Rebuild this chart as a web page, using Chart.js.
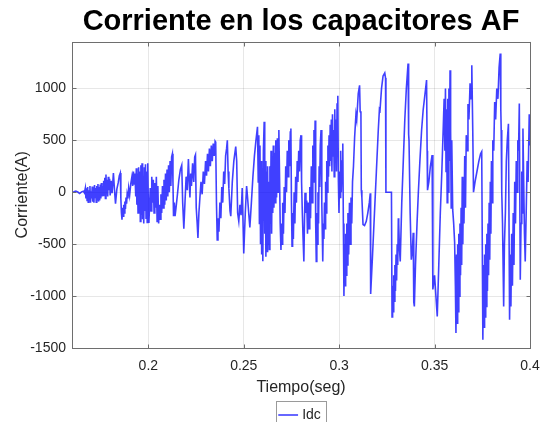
<!DOCTYPE html>
<html><head><meta charset="utf-8">
<script src="https://cdn.jsdelivr.net/npm/chart.js@4/dist/chart.umd.min.js"></script>
<style>html,body{margin:0;padding:0;background:#fff;overflow:hidden}#wrap{width:544px;height:422px}</style>
</head><body><div id="wrap"><canvas id="c" width="544" height="422"></canvas></div>
<script>
const chartTitle = "Corriente en los capacitores AF";
const xTitle = "Tiempo(seg)";
const yTitle = "Corriente(A)";
const seriesName = "Idc";
const xTicks = [0.2, 0.25, 0.3, 0.35, 0.4];
const yTicks = [-1500, -1000, -500, 0, 500, 1000];

const timeSec = [
0.1600,0.1610,0.1620,0.1630,0.1640,0.1650,0.1660,0.1665,
0.1670,0.1673,0.1676,0.1679,0.1682,0.1685,0.1688,0.1691,0.1694,0.1697,0.1700,0.1703,0.1706,0.1709,0.1712,0.1715,0.1718,0.1721,0.1724,0.1727,0.1730,0.1733,0.1736,0.1739,0.1742,0.1745,0.1748,0.1751,0.1754,0.1757,0.1760,0.1763,0.1766,
0.1769,0.1772,0.1775,0.1778,0.1781,0.1784,0.1787,0.1790,0.1793,0.1797,0.1800,0.1805,0.1810,0.1817,0.1822,0.1828,0.1835,0.1842,0.1848,0.1853,0.1856,0.1859,0.1862,0.1865,0.1868,0.1871,0.1874,0.1877,0.1880,0.1883,0.1886,0.1889,0.1893,0.1897,0.1902,0.1908,0.1914,0.1918,0.1922,0.1926,0.1930,0.1934,0.1937,0.1940,
0.1943,0.1946,0.1949,0.1952,0.1955,0.1958,0.1961,0.1964,0.1967,0.1970,0.1973,0.1976,0.1979,0.1982,0.1985,0.1988,0.1991,0.1994,0.1997,0.2000,0.2003,0.2006,
0.2010,0.2014,0.2018,0.2022,0.2026,0.2030,0.2034,0.2038,0.2042,0.2046,0.2050,0.2054,0.2058,0.2062,
0.2066,0.2070,0.2074,0.2078,0.2082,0.2086,0.2090,0.2094,0.2098,0.2102,0.2106,0.2110,0.2114,0.2118,0.2122,0.2126,0.2129,0.2132,0.2136,0.2140,
0.2145,0.2152,0.2160,0.2168,0.2175,0.2180,0.2186,0.2192,0.2198,0.2204,0.2210,0.2214,0.2218,0.2222,0.2226,0.2232,0.2238,0.2243,0.2247,0.2251,0.2256,0.2260,0.2265,0.2270,0.2276,0.2282,0.2288,0.2294,0.2300,0.2305,0.2310,0.2315,0.2320,0.2325,0.2330,0.2335,0.2340,0.2345,0.2350,0.2353,0.2357,0.2361,0.2365,0.2370,0.2375,0.2380,0.2385,0.2390,0.2395,0.2400,0.2405,0.2410,0.2414,0.2418,0.2422,0.2428,0.2432,0.2440,0.2448,0.2458,0.2463,0.2468,0.2474,0.2480,0.2486,0.2492,0.2500,0.2508,0.2515,0.2520,0.2526,0.2532,0.2540,0.2548,0.2556,0.2564,0.2572,0.2576,
0.2579,0.2582,0.2585,0.2588,0.2591,0.2594,0.2597,0.2600,0.2603,0.2607,0.2610,0.2613,0.2616,0.2619,0.2622,0.2625,0.2628,0.2631,0.2634,0.2637,0.2640,0.2643,0.2646,0.2649,0.2652,0.2655,0.2658,0.2661,0.2664,0.2668,0.2672,0.2676,0.2680,0.2684,0.2688,0.2691,0.2695,0.2698,0.2701,0.2704,0.2708,0.2712,0.2716,0.2720,0.2724,0.2728,0.2732,0.2736,0.2740,0.2744,0.2747,0.2750,0.2753,0.2756,0.2760,0.2764,0.2768,0.2772,0.2776,0.2780,0.2784,0.2788,0.2792,0.2796,0.2800,0.2803,0.2807,0.2811,0.2815,0.2818,0.2821,0.2826,0.2830,
0.2834,0.2838,0.2842,0.2846,0.2850,0.2854,0.2858,0.2862,0.2865,0.2868,0.2871,0.2874,0.2877,0.2880,0.2883,0.2886,0.2889,0.2892,0.2895,0.2898,0.2901,0.2905,0.2909,0.2914,0.2917,0.2920,0.2923,0.2926,0.2929,0.2932,0.2935,0.2938,0.2941,0.2944,0.2947,0.2950,0.2953,0.2956,0.2959,0.2962,0.2965,0.2968,0.2971,0.2974,0.2977,0.2980,0.2983,0.2986,0.2989,0.2993,0.2996,0.2999,0.3002,0.3005,0.3008,0.3011,0.3015,0.3019,
0.3022,0.3025,0.3028,0.3031,0.3034,0.3037,0.3040,0.3043,0.3046,0.3050,0.3054,0.3058,0.3062,0.3066,0.3070,0.3075,0.3081,0.3088,0.3092,0.3100,0.3107,0.3110,0.3114,0.3116,0.3119,0.3125,0.3133,0.3142,0.3150,0.3158,0.3163,0.3165,
0.3175,0.3185,0.3195,0.3205,0.3211,0.3214,0.3222,0.3230,0.3239,0.3243,0.3245,0.3274,0.3277,
0.3280,0.3283,0.3286,0.3289,0.3292,0.3295,0.3298,0.3301,0.3304,0.3307,0.3310,0.3312,0.3316,0.3320,0.3328,0.3336,0.3344,0.3352,0.3361,0.3364,0.3366,0.3372,0.3378,0.3384,0.3388,0.3391,
0.3394,0.3400,0.3408,0.3415,0.3423,0.3432,0.3440,0.3450,0.3458,0.3461,0.3463,0.3470,0.3478,0.3487,0.3491,0.3500,0.3507,0.3514,0.3522,0.3530,0.3538,0.3545,0.3550,0.3554,0.3557,0.3560,0.3563,0.3566,0.3569,0.3572,0.3575,0.3578,0.3581,0.3584,0.3587,0.3590,0.3595,0.3600,0.3605,0.3609,
0.3612,0.3615,0.3618,0.3621,0.3624,0.3627,0.3630,0.3633,0.3636,0.3639,0.3642,0.3645,0.3648,0.3651,0.3654,0.3658,0.3662,0.3666,0.3670,0.3675,0.3680,0.3686,0.3691,0.3695,0.3700,0.3704,0.3712,0.3722,0.3732,0.3741,0.3747,
0.3753,0.3756,0.3759,0.3762,0.3765,0.3768,0.3771,0.3774,0.3777,0.3780,0.3783,0.3786,0.3789,0.3792,0.3795,0.3798,0.3801,0.3805,0.3810,0.3815,0.3820,0.3826,0.3832,0.3838,0.3844,0.3847,0.3849,0.3852,0.3856,0.3862,0.3866,0.3871,0.3876,0.3881,0.3887,
0.3893,0.3897,0.3900,0.3904,0.3908,0.3912,0.3916,0.3920,0.3924,0.3928,0.3932,0.3936,0.3940,0.3944,0.3949,0.3953,0.3957,0.3960,0.3963,0.3967,0.3971,0.3975,0.3980,0.3985,0.3990,0.3996,0.4000
];

const currentA = [
0,5,12,2,-12,4,10,-5,
40,-60,30,-80,50,-95,20,-70,60,-100,10,-60,55,-90,30,-100,70,-50,40,-95,60,-70,80,-90,50,-80,75,-60,90,-40,60,-30,110,
-20,140,-60,170,0,120,-40,150,20,130,-30,110,-10,185,40,-110,30,90,160,185,-60,-200,-265,-150,-230,-120,-200,-90,-160,-50,-110,-20,-60,40,-30,80,150,60,200,80,180,-40,230,-120,
180,-200,240,-150,200,-280,260,-220,280,-260,150,-300,240,-180,270,-250,200,-290,280,-120,-295,-150,
40,-180,150,-100,120,-200,90,-150,150,-280,60,-300,-120,-260,
-20,-200,60,-150,120,-120,180,-80,220,-40,260,0,300,60,340,370,100,-230,-100,-230,
-150,-30,120,220,260,-100,-350,-100,150,20,320,120,-50,180,60,280,100,340,360,-150,-300,-440,-200,-60,100,-20,200,80,300,160,370,200,420,250,450,300,470,350,490,480,-100,-460,-250,-380,-100,-250,50,-100,200,80,350,420,500,200,40,-180,-230,100,300,440,300,-200,-280,-120,-220,40,-590,-200,60,-50,-200,-340,-100,150,350,500,630,100,
550,-300,450,-500,300,-600,200,-665,400,680,-400,300,-620,200,-570,250,-500,100,-550,250,-300,400,-400,300,-200,450,-150,380,-100,500,-50,520,0,600,100,-300,-555,-300,-500,-100,-400,50,-200,250,0,400,150,500,250,580,615,-100,-520,-200,-450,0,-300,150,-100,300,100,400,200,500,550,100,-200,-450,-667,-300,-5,-200,-80,
-400,-100,-350,50,-250,250,-100,450,100,600,200,690,-300,-667,-200,-500,0,-300,250,50,450,600,-100,-667,-300,-450,-100,-350,100,-200,300,0,450,150,550,250,650,300,700,200,750,350,600,150,800,300,700,200,850,930,100,-200,200,-50,400,0,300,470,
-300,-1000,-500,-900,-400,-800,-300,-700,-200,-600,-100,-500,-50,-300,100,250,530,750,700,950,1030,780,760,20,-50,-310,-320,-280,-200,-100,-10,-980,
-600,-200,200,600,800,790,1000,1120,1150,1100,0,0,-1200,
-900,-1150,-800,-1050,-700,-950,-600,-850,-500,-700,-250,-300,-550,-667,-100,300,700,1000,1240,560,500,-200,-650,-550,-390,-1060,
-1100,-700,-300,0,300,600,790,950,1080,400,20,100,250,358,-936,-800,-1000,-1196,-700,-200,200,600,900,400,1000,200,800,-100,900,0,1000,300,1176,600,-150,500,-170,-300,-480,-900,
-1356,-600,-1260,-500,-1150,-400,-1000,-300,-800,-150,-700,150,-500,100,-300,350,-150,550,400,850,700,1050,900,1224,600,0,100,200,300,370,391,
-1420,-700,-1300,-600,-1200,-500,-1100,-400,-950,-300,-800,-100,-650,100,-400,300,-100,500,400,870,700,1000,900,1200,1336,800,600,0,-300,-1100,-500,-200,300,500,660,
-1228,-600,-1100,-400,-900,-200,-700,100,-300,300,0,500,400,855,-843,-300,200,-200,615,100,-400,-667,-200,300,100,750,450
];

const points = timeSec.map((t, i) => ({ x: t, y: currentA[i] }));
const textColor = '#262626';
const fontFam = 'Liberation Sans, Arial, sans-serif';

const boxPlugin = {
  id: 'boxPlugin',
  afterDraw(chart) {
    const { ctx, chartArea: a } = chart;
    const xs = chart.scales.x, ys = chart.scales.y;
    const L = Math.round(a.left) + 0.5, T = Math.round(a.top) + 0.5;
    const R = Math.round(a.right) + 0.5, B = Math.round(a.bottom) + 0.5;
    ctx.save();
    ctx.strokeStyle = '#6e6e6e';
    ctx.lineWidth = 1;
    ctx.strokeRect(L, T, R - L, B - T);
    ctx.beginPath();
    const tl = 4;
    xTicks.forEach(v => {
      const px = Math.round(xs.getPixelForValue(v)) + 0.5;
      ctx.moveTo(px, B); ctx.lineTo(px, B - tl);
      ctx.moveTo(px, T); ctx.lineTo(px, T + tl);
    });
    yTicks.forEach(v => {
      const py = Math.round(ys.getPixelForValue(v)) + 0.5;
      ctx.moveTo(L, py); ctx.lineTo(L + tl, py);
      ctx.moveTo(R, py); ctx.lineTo(R - tl, py);
    });
    ctx.stroke();
    const lg = chart.legend;
    if (lg && lg.legendHitBoxes && lg.legendHitBoxes.length) {
      const hb = lg.legendHitBoxes[0];
      ctx.strokeStyle = '#9a9a9a';
      ctx.strokeRect(Math.round(hb.left) - 4.5, Math.round(hb.top) - 6.5, Math.round(hb.width) + 10, Math.round(hb.height) + 14);
    }
    ctx.restore();
  }
};

new Chart(document.getElementById('c'), {
  type: 'line',
  data: {
    datasets: [{
      label: seriesName,
      data: points,
      borderColor: 'rgba(0,0,255,0.75)',
      backgroundColor: 'rgba(0,0,255,0.75)',
      borderWidth: 1.6,
      pointRadius: 0,
      tension: 0,
      fill: false
    }]
  },
  options: {
    responsive: false,
    animation: false,
    layout: { padding: { left: 0, right: 14, top: 0, bottom: -10 } },
    plugins: {
      title: {
        display: true,
        fullSize: false,
        text: chartTitle,
        color: '#000',
        font: { family: fontFam, size: 29, weight: 'bold' },
        padding: { top: 4.6, bottom: 2.3 }
      },
      legend: {
        position: 'bottom',
        fullSize: false,
        labels: {
          color: textColor,
          font: { family: fontFam, size: 14 },
          usePointStyle: true,
          pointStyle: 'line',
          boxWidth: 24,
          padding: 11
        }
      },
      tooltip: { enabled: false }
    },
    scales: {
      x: {
        type: 'linear',
        min: 0.16,
        max: 0.4,
        afterBuildTicks: (s) => { s.ticks = xTicks.map(v => ({ value: v })); },
        afterFit: (s) => { s.height = 49; s.paddingLeft = 0; s.paddingRight = 0; },
        grid: { color: 'rgba(38,38,38,0.11)', drawTicks: false },
        border: { display: false },
        ticks: {
          color: textColor,
          padding: 10,
          maxRotation: 0,
          font: { family: fontFam, size: 14 },
          callback: (v) => String(Math.round(v * 100) / 100)
        },
        title: {
          display: true,
          text: xTitle,
          color: textColor,
          padding: { top: 0, bottom: 0 },
          font: { family: fontFam, size: 16 }
        }
      },
      y: {
        min: -1500,
        max: 1450,
        afterBuildTicks: (s) => { s.ticks = yTicks.map(v => ({ value: v })); },
        afterFit: (s) => { s.width = 72; s.paddingTop = 0; s.paddingBottom = 0; },
        grid: { color: 'rgba(38,38,38,0.11)', drawTicks: false },
        border: { display: false },
        ticks: {
          color: textColor,
          padding: 6,
          font: { family: fontFam, size: 14 },
          callback: (v) => String(v)
        },
        title: {
          display: true,
          text: yTitle,
          color: textColor,
          padding: { top: 13, bottom: 0 },
          font: { family: fontFam, size: 16 }
        }
      }
    }
  },
  plugins: [boxPlugin]
});
</script></body></html>
